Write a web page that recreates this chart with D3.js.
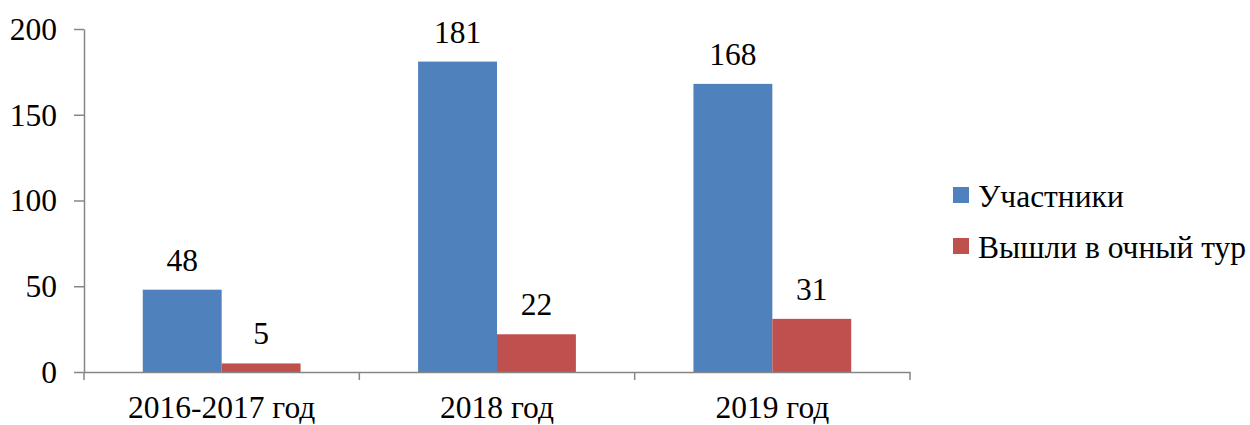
<!DOCTYPE html>
<html>
<head>
<meta charset="utf-8">
<script src="https://cdn.jsdelivr.net/npm/d3@7"></script>
<style>
  html, body { margin: 0; padding: 0; background: #fff; }
  svg { display: block; }
</style>
</head>
<body>
<svg id="chart" width="1250" height="425"></svg>
<script>
// Data
const categories = ["2016-2017 год", "2018 год", "2019 год"];
const seriesNames = ["Участники", "Вышли в очный тур"];
const participants = [48, 181, 168];
const finalists = [5, 22, 31];
const yTicks = [0, 50, 100, 150, 200];

const colors = ["#4F81BD", "#C0504D"];
const axisColor = "#868686";
const fontFamily = "'Liberation Serif', 'Times New Roman', serif";
const fontSize = "31.5px";

const svg = d3.select("#chart");
const plot = { left: 84, right: 910, top: 29, bottom: 372 };

const x = d3.scaleBand().domain(categories).range([plot.left, plot.right]).paddingInner(0).paddingOuter(0);
const inner = d3.scaleBand().domain(seriesNames)
  .range([0, x.bandwidth()]).paddingInner(0).paddingOuter(0.745);
const y = d3.scaleLinear().domain([0, 200]).range([plot.bottom, plot.top]);

const rows = categories.map((c, i) => ({ cat: c, values: [participants[i], finalists[i]] }));

function styleText(sel) {
  return sel.style("font-family", fontFamily).style("font-size", fontSize).attr("fill", "#000");
}

// Bars
const groups = svg.append("g").selectAll("g").data(rows).join("g")
  .attr("transform", d => `translate(${x(d.cat)},0)`);

groups.selectAll("rect")
  .data(d => d.values.map((v, k) => ({ name: seriesNames[k], v, k })))
  .join("rect")
  .attr("x", d => inner(d.name))
  .attr("width", inner.bandwidth())
  .attr("y", d => y(d.v))
  .attr("height", d => y(0) - y(d.v))
  .attr("fill", d => colors[d.k]);

// Value labels
groups.selectAll("text.val")
  .data(d => d.values.map((v, k) => ({ name: seriesNames[k], v, k })))
  .join("text")
  .attr("class", "val")
  .attr("x", d => inner(d.name) + inner.bandwidth() / 2)
  .attr("y", d => y(d.v) - 19)
  .attr("text-anchor", "middle")
  .call(styleText)
  .text(d => d.v);

// Y axis
const yAxis = svg.append("g")
  .attr("transform", `translate(${plot.left},0)`)
  .call(d3.axisLeft(y).tickValues(yTicks).tickSize(10).tickSizeOuter(0).tickPadding(17));
yAxis.select(".domain").attr("stroke", axisColor).attr("stroke-width", 1.5);
yAxis.selectAll(".tick line").attr("stroke", axisColor).attr("stroke-width", 1.5);
yAxis.selectAll(".tick text").call(styleText).attr("dy", "0.33em");

// X axis
const xAxis = svg.append("g")
  .attr("transform", `translate(0,${plot.bottom})`)
  .call(d3.axisBottom(x).tickSize(0).tickSizeOuter(0).tickPadding(24));
xAxis.select(".domain").attr("stroke", axisColor).attr("stroke-width", 1.5);
xAxis.selectAll(".tick text").call(styleText).attr("dy", "0.71em");

// Category separators below the x axis
const seps = [plot.left, ...categories.map(c => x(c) + x.bandwidth())];
svg.append("g").selectAll("line").data(seps).join("line")
  .attr("x1", d => d).attr("x2", d => d)
  .attr("y1", plot.bottom).attr("y2", plot.bottom + 8)
  .attr("stroke", axisColor).attr("stroke-width", 1.5);

// Legend
const legend = svg.append("g").attr("transform", "translate(953,187)");
const items = legend.selectAll("g").data(seriesNames).join("g")
  .attr("transform", (d, i) => `translate(0,${i * 51})`);
items.append("rect").attr("width", 16).attr("height", 16).attr("fill", (d, i) => colors[i]);
items.append("text").attr("x", 25).attr("y", 20).call(styleText).text(d => d);
</script>
</body>
</html>
